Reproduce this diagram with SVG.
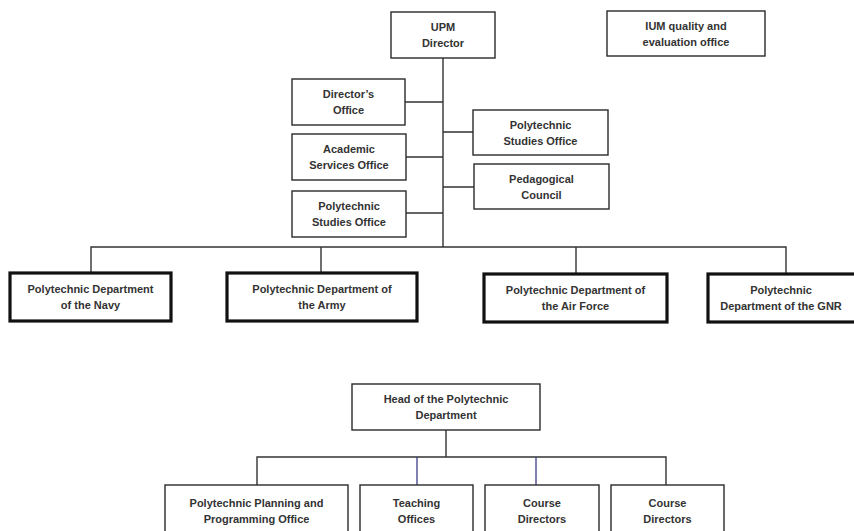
<svg xmlns="http://www.w3.org/2000/svg" width="854" height="531" viewBox="0 0 854 531">
<style>
.b{fill:#fff;stroke:#2a2a2a;stroke-width:1.4}
.t{fill:#fff;stroke:#111;stroke-width:3.2}
text{font-family:"Liberation Sans",Arial,sans-serif;font-weight:bold;font-size:11px;fill:#333;text-anchor:middle}
.c{stroke:#333;stroke-width:1.4;fill:none}
.u{stroke:#3d3d8a;stroke-width:1.3;fill:none}
</style>
<rect width="854" height="531" fill="#fff"/>
<g id="connectors">
<path class="c" d="M443 58V247M405 102H443M406 157H443M406 213H443M443 132H473M443 187H474M91 273V247H786V274M321 247V273M576 247V274"/>
<path class="c" d="M446 430V457M257 485V457H666V485"/>
<path class="u" d="M417 457V485M536 457V485"/>
</g>
<g id="upm"><rect class="b" x="391" y="12" width="104" height="46"/><text x="443" y="31">UPM<tspan x="443" dy="16">Director</tspan></text></g>
<g id="ium"><rect class="b" x="607" y="11" width="158" height="45"/><text x="686" y="30">IUM quality and<tspan x="686" dy="16">evaluation office</tspan></text></g>
<g id="directors-office"><rect class="b" x="292" y="79" width="113" height="46"/><text x="348.5" y="98">Director’s<tspan x="348.5" dy="16">Office</tspan></text></g>
<g id="academic"><rect class="b" x="292" y="134" width="114" height="46"/><text x="349" y="153">Academic<tspan x="349" dy="16">Services Office</tspan></text></g>
<g id="poly-studies-left"><rect class="b" x="292" y="191" width="114" height="46"/><text x="349" y="210">Polytechnic<tspan x="349" dy="16">Studies Office</tspan></text></g>
<g id="poly-studies-right"><rect class="b" x="473" y="110" width="135" height="45"/><text x="540.5" y="129">Polytechnic<tspan x="540.5" dy="16">Studies Office</tspan></text></g>
<g id="pedagogical"><rect class="b" x="474" y="164" width="135" height="45"/><text x="541.5" y="183">Pedagogical<tspan x="541.5" dy="16">Council</tspan></text></g>
<g id="navy"><rect class="t" x="10" y="273" width="161" height="48"/><text x="90.5" y="293">Polytechnic Department<tspan x="90.5" dy="16">of the Navy</tspan></text></g>
<g id="army"><rect class="t" x="227" y="273" width="190" height="48"/><text x="322" y="293">Polytechnic Department of<tspan x="322" dy="16">the Army</tspan></text></g>
<g id="airforce"><rect class="t" x="484" y="274" width="183" height="48"/><text x="575.5" y="294">Polytechnic Department of<tspan x="575.5" dy="16">the Air Force</tspan></text></g>
<g id="gnr"><rect class="t" x="708" y="274" width="152" height="48"/><text x="781" y="294">Polytechnic<tspan x="781" dy="16">Department of the GNR</tspan></text></g>
<g id="head"><rect class="b" x="352" y="384" width="188" height="46"/><text x="446" y="403">Head of the Polytechnic<tspan x="446" dy="16">Department</tspan></text></g>
<g id="planning"><rect class="b" x="165" y="485" width="183" height="60"/><text x="256.5" y="507">Polytechnic Planning and<tspan x="256.5" dy="16">Programming Office</tspan></text></g>
<g id="teaching"><rect class="b" x="360" y="485" width="113" height="60"/><text x="416.5" y="507">Teaching<tspan x="416.5" dy="16">Offices</tspan></text></g>
<g id="course1"><rect class="b" x="485" y="485" width="114" height="60"/><text x="542" y="507">Course<tspan x="542" dy="16">Directors</tspan></text></g>
<g id="course2"><rect class="b" x="611" y="485" width="113" height="60"/><text x="667.5" y="507">Course<tspan x="667.5" dy="16">Directors</tspan></text></g>
</svg>
